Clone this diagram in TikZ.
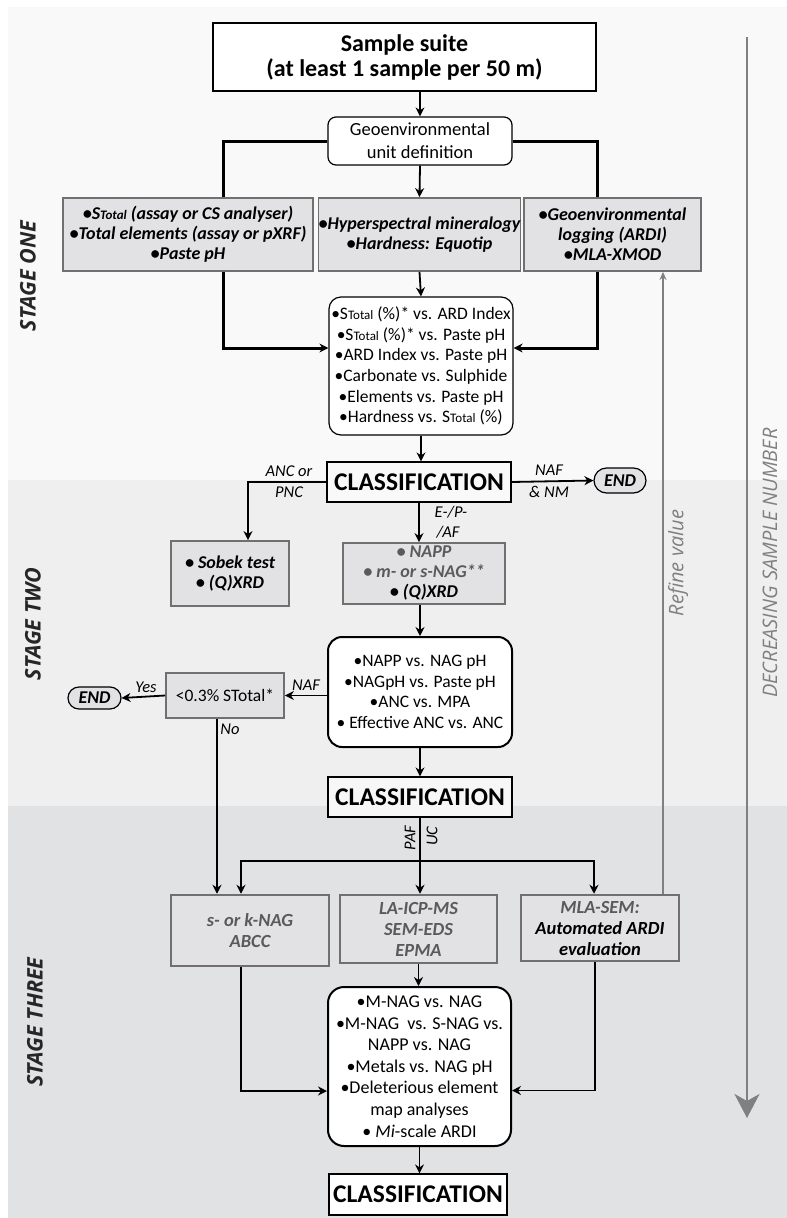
\documentclass[tikz,border=0pt]{standalone}
\usepackage{fontspec}
\setmainfont{Carlito}
\newfontfamily\stagefont{Open Sans}
\usetikzlibrary{arrows.meta}

\definecolor{bgone}{HTML}{F9F9F9}
\definecolor{bgtwo}{HTML}{EFEFEF}
\definecolor{bgthree}{HTML}{E1E2E4}
\definecolor{boxgray}{HTML}{E2E2E4}
\definecolor{edgegray}{HTML}{707070}
\definecolor{txtgray}{HTML}{5A5A5A}
\definecolor{refgray}{HTML}{808080}

\newcommand{\tot}{{\fontsize{13}{13}\selectfont Total}}

\tikzset{
  flow/.style={draw, align=center, inner sep=0pt, font={\fontsize{17.5}{20.6}\selectfont}},
  listbox/.style={flow, fill=white, rounded corners=12pt, line width=1.2pt},
  testbox/.style={flow, fill=boxgray, draw=edgegray, line width=1.8pt, font={\fontsize{18}{20}\selectfont\bfseries\itshape}},
  deepbox/.style={testbox, line width=2.5pt, text=txtgray, font={\fontsize{18.5}{21}\selectfont\bfseries\itshape}},
  classbox/.style={flow, line width=1.2pt, font={\fontsize{25.5}{25.5}\selectfont\bfseries}},
  endbox/.style={flow, fill=boxgray, line width=1.2pt, font={\fontsize{18}{18}\selectfont\bfseries\itshape}},
  arr/.style={-{Stealth[length=9pt,width=9pt]}, line width=1.8pt},
  trunk/.style={line width=3pt},
  lbl/.style={font={\fontsize{16.5}{18}\selectfont\itshape}, inner sep=1pt},
  stage/.style={rotate=90, text=black!85, font={\stagefont\fontsize{21.5}{21.5}\selectfont\bfseries\itshape}},
  sidetxt/.style={rotate=90, text=refgray, font={\stagefont\fontsize{20}{20}\selectfont\itshape}},
}

\begin{document}
\begin{tikzpicture}[x=1pt, y=-1pt]
\useasboundingbox (0,0) rectangle (787,1218);

%bands
	\foreach \top/\bot/\col in {7/480/bgone, 480/806/bgtwo, 806/1218/bgthree}{
		\fill[\col] (8,\top) rectangle (787,\bot);
	}
	\foreach \x/\y/\name in {28/276/ONE, 33/624/TWO, 35/1022/THREE}{
		\node[stage] (stage\name) at (\x,\y) {STAGE \name};
	}

%stage one
	\node[flow, fill=white, line width=2.5pt, minimum width=383pt, minimum height=68pt, font={\fontsize{24}{25}\selectfont\bfseries}] (suite) at (404.5,57) {Sample suite\\(at least 1 sample per 50 m)};
	\node[listbox, rounded corners=8pt, minimum width=184pt, minimum height=48pt, font={\fontsize{18.5}{23}\selectfont}] (unit) at (420,141) {Geoenvironmental\\unit definition};

	\node[testbox, minimum width=250pt, minimum height=73pt] (sttl) at (188,234.5) {•S\tot{} (assay or CS analyser)\\•Total elements (assay or pXRF)\\•Paste pH};
	\node[testbox, minimum width=197pt, minimum height=73pt] (hyper) at (419.5,234.5) {•Hyperspectral mineralogy\\•Hardness: Equotip};
	\node[testbox, minimum width=177pt, minimum height=73pt] (logging) at (612.5,234.5) {•Geoenvironmental\\logging (ARDI)\\•MLA-XMOD};

	\node[listbox, minimum width=184pt, minimum height=138pt] (plots1) at (421,366) {•S\tot{} (\%)* vs. ARD Index\\•S\tot{} (\%)* vs. Paste pH\\•ARD Index vs. Paste pH\\•Carbonate vs. Sulphide\\•Elements vs. Paste pH\\•Hardness vs. S\tot{} (\%)};

	\draw[arr] (suite.south -| unit.north) -- (unit.north);
	\draw[trunk] (unit.west) -| ([xshift=35pt]sttl.north);
	\draw[trunk] (unit.east) -| ([xshift=-15.5pt]logging.north);
	\draw[arr] (unit.south) -- (hyper.north);
	\draw[arr, trunk] ([xshift=35pt]sttl.south) |- ([yshift=18pt]plots1.west);
	\draw[arr] (hyper.south) -- (plots1.north);
	\draw[arr, trunk] ([xshift=-15.5pt]logging.south) |- ([yshift=18pt]plots1.east);

%stage two
	\node[classbox, fill=white!60!bgtwo, minimum width=184pt, minimum height=40pt] (class1) at (419,482) {CLASSIFICATION};
	\node[endbox, rounded corners=12.5pt, minimum width=52pt, minimum height=25pt] (end1) at (620,480.5) {END};
	\node[testbox, minimum width=118pt, minimum height=65pt] (sobek) at (230,573.5) {• Sobek test\\• (Q)XRD};
	\node[testbox, minimum width=162pt, minimum height=61pt] (napp) at (424,573.5) {\textcolor{txtgray}{• NAPP}\\\textcolor{txtgray}{• m- or s-NAG**}\\• (Q)XRD};
	\node[listbox, line width=2pt, rounded corners=14pt, minimum width=184pt, minimum height=110pt] (plots2) at (420,692) {•NAPP vs. NAG pH\\•NAGpH vs. Paste pH\\•ANC vs. MPA\\• Effective ANC vs. ANC};
	\node[testbox, font={\fontsize{17.5}{17.5}\selectfont}, minimum width=118pt, minimum height=45pt] (sulph) at (225,695.5) {<0.3\% STotal*};
	\node[endbox, rounded corners=11pt, minimum width=53pt, minimum height=22pt] (end2) at (94.5,698) {END};
	\node[classbox, fill=white!50!bgtwo, minimum width=184pt, minimum height=40pt] (class2) at (420,797) {CLASSIFICATION};

	\draw[arr] (plots1.south) -- (plots1.south |- class1.north);
	\draw[arr] (class1.west) -| ([xshift=18pt]sobek.north);
	\draw[arr] (class1.east) -- (end1.west);
	\draw[arr] (class1.south) -- (class1.south |- napp.north);
	\draw[arr] (napp.south -| plots2.north) -- (plots2.north);
	\draw[arr] (plots2.west |- sulph.east) -- (sulph.east);
	\draw[arr] (sulph.west) -- (end2.east);
	\draw[arr] (plots2.south) -- (class2.north);

	\node[lbl] (ancor) at (289,471) {ANC or};
	\node[lbl] (pnc) at (289,492) {PNC};
	\node[lbl] (naf1) at (549,470) {NAF};
	\node[lbl] (nm) at (549,492) {\& NM};
	\node[lbl] (epaf) at (451,512) {E-/P-};
	\node[lbl] (af) at (448,532) {/AF};
	\node[lbl] (naf2) at (306,685) {NAF};
	\node[lbl] (yes) at (146,687) {Yes};
	\node[lbl] (no) at (230,729) {No};

%stage three
	\node[deepbox, minimum width=158pt, minimum height=71pt] (kinetic) at (250,930.5) {s- or k-NAG\\ABCC};
	\node[deepbox, minimum width=157pt, minimum height=68pt] (micro) at (418.5,929) {LA-ICP-MS\\SEM-EDS\\EPMA};
	\node[deepbox, minimum width=158pt, minimum height=66pt] (mla) at (600,928) {MLA-SEM:\\\textcolor{black}{Automated ARDI}\\\textcolor{black}{evaluation}};
	\node[listbox, line width=2pt, rounded corners=16pt, minimum width=183pt, minimum height=159pt, font={\fontsize{18}{21.6}\selectfont}] (plots3) at (419.5,1066.5) {•M-NAG vs. NAG\\•M-NAG~ vs. S-NAG vs.\\NAPP vs. NAG\\•Metals vs. NAG pH\\•Deleterious element\\map analyses\\• \textit{Mi}-scale ARDI};
	\node[classbox, fill=white, minimum width=178pt, minimum height=41pt] (class3) at (418,1194.5) {CLASSIFICATION};

	\coordinate (split) at (420,861);
	\draw[arr] ([xshift=-8pt]sulph.south) -- ([xshift=-8pt]sulph.south |- kinetic.north);
	\draw[arr] (class2.south) -- (class2.south |- micro.north);
	\draw[arr] (split) -| ([xshift=-9pt]kinetic.north);
	\draw[arr] (split) -| ([xshift=-6pt]mla.north);
	\node[lbl, rotate=90] (paf) at (410,838) {PAF};
	\node[lbl, rotate=90] (uc) at (432,836) {UC};

	\draw[arr] (micro.south) -- (micro.south |- plots3.north);
	\draw[arr] ([xshift=-9pt]kinetic.south) |- ([yshift=-24.5pt]plots3.west);
	\draw[arr] ([xshift=-5pt]mla.south) |- ([yshift=-24pt]plots3.east);
	\draw[arr] (plots3.south) -- (plots3.south |- class3.north);

%refine and sample number
	\coordinate (refx) at (663,0);
	\draw[refgray, line width=1.5pt, -{Stealth[length=8pt,width=7pt]}] (mla.north -| refx) -- (logging.south -| refx);
	\node[sidetxt] (refine) at (678,563) {Refine value};

	\coordinate (dtop) at (747,37);
	\coordinate (dbot) at (747,1118);
	\draw[refgray, line width=2.2pt, -{Stealth[length=24pt,width=25pt,inset=7pt]}] (dtop) -- (dbot);
	\node[sidetxt] (decr) at (770,563) {DECREASING SAMPLE NUMBER};

\end{tikzpicture}
\end{document}
